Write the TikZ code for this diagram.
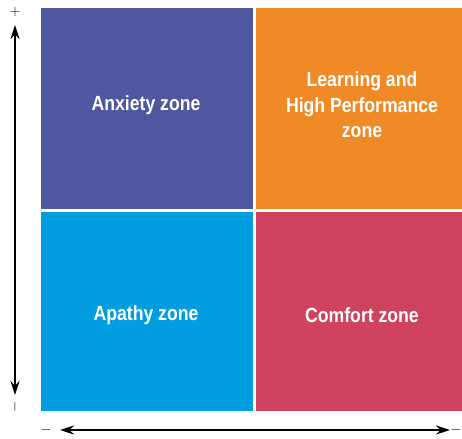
\documentclass[tikz,border=0pt]{standalone}
\usepackage{fontspec}
\setmainfont{Liberation Sans}[FakeStretch=0.86]
\usepackage{tikz}
\usetikzlibrary{arrows.meta,positioning}

\definecolor{zonepurple}{RGB}{80,87,161}
\definecolor{zoneorange}{RGB}{240,138,38}
\definecolor{zoneblue}{RGB}{0,158,224}
\definecolor{zonered}{RGB}{208,67,95}

\begin{document}
\begin{tikzpicture}[x=1pt, y=-1pt,
    zone/.style={inner sep=0pt, align=center, text=white,
        font=\fontsize{20.5}{25.5}\selectfont\bfseries},
    sign/.style={inner sep=0pt, font=\fontsize{14}{14}\selectfont},
    axis/.style={{Stealth[length=14pt,width=9pt]}-{Stealth[length=14pt,width=9pt]}, line width=1.2pt}]
            \useasboundingbox (0,0) rectangle (462,438);

            % Quadrants
            \fill[zonepurple] (41,8) rectangle (253,209);
            \fill[zoneorange] (256,8) rectangle (462,209);
            \fill[zoneblue] (41,212) rectangle (253,411);
            \fill[zonered] (256,212) rectangle (462,411);
            \node[zone] (anxiety) at (146,105) {Anxiety zone};
            \node[zone] (learning) at (362,105) {Learning and\\High Performance\\zone};
            \node[zone] (apathy) at (146,315) {Apathy zone};
            \node[zone] (comfort) at (362,315) {Comfort zone};

            % Vertical axis
            \node[sign] (vplus) at (15,12) {$+$};
            \node[sign, rotate=90] (vminus) at (15,407) {$-$};
            \coordinate (vtop) at (15,25);
            \coordinate (vbot) at (15,395);
            \draw[axis] (vtop) -- (vbot);

            % Horizontal axis
            \node[sign] (hminus) at (46,430) {$-$};
            \node[sign] (hplus) at (456,430) {$-$};
            \coordinate (hleft) at (60,430);
            \coordinate (hright) at (450,430);
            \draw[axis] (hleft) -- (hright);
        \end{tikzpicture}
\end{document}
